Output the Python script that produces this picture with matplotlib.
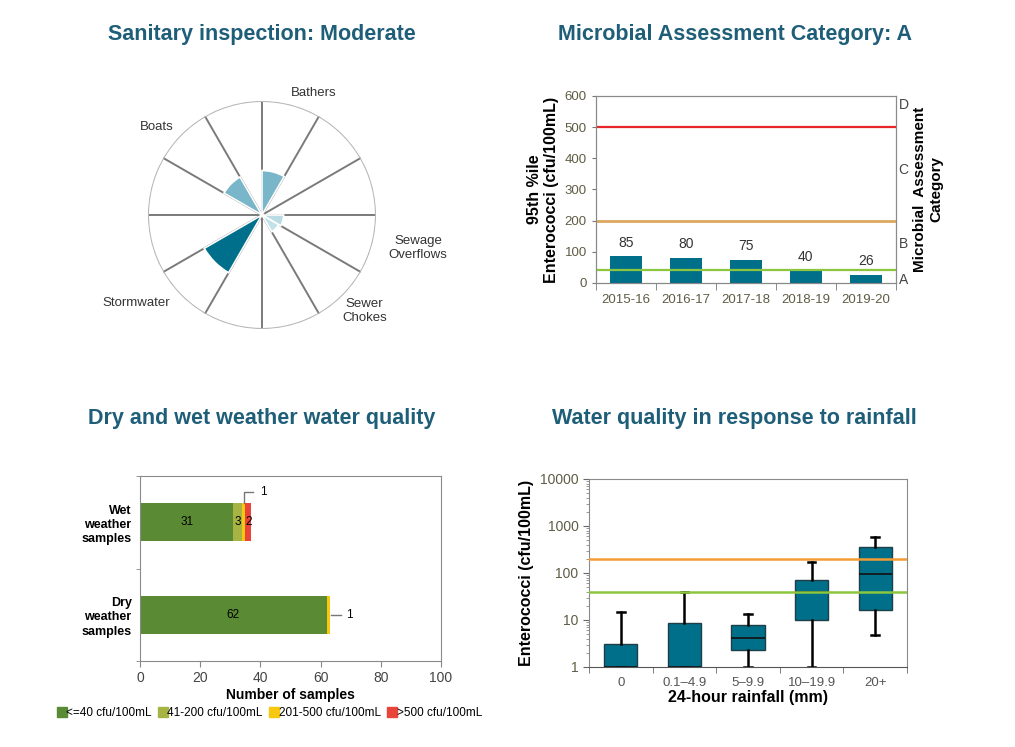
import numpy as np
import matplotlib.pyplot as plt
from matplotlib.lines import Line2D

plt.rcParams['font.family'] = ['Liberation Sans', 'DejaVu Sans']

# --- data ---
# sanitary inspection (12 sectors, 5 labelled)
san_names = ['Bathers', 'Sewage\nOverflows', 'Sewer\nChokes', 'Stormwater', 'Boats']
san_sector = [0, 3, 4, 7, 10]
san_values = [0.39, 0.19, 0.17, 0.585, 0.385]
san_colors = ['#7ab6c9', '#b8dbe4', '#c3e1e9', '#006f8c', '#7ab6c9']

# microbial assessment
years = ['2015-16', '2016-17', '2017-18', '2018-19', '2019-20']
pct95 = [85, 80, 75, 37, 26]
pct95_labels = ['85', '80', '75', '40', '26']
cat_letters = ['A', 'B', 'C', 'D']
cat_pos = [13, 130, 366, 577]

# dry / wet weather
weather = ['Dry\nweather\nsamples', 'Wet\nweather\nsamples']
cnt_le40 = [62, 31]
cnt_41_200 = [0, 3]
cnt_201_500 = [1, 1]
cnt_gt500 = [0, 2]
leg_labels = ['<=40 cfu/100mL', '41-200 cfu/100mL', '201-500 cfu/100mL', '>500 cfu/100mL']
leg_colors = ['#5b8a34', '#a7b443', '#f8c80f', '#e8443a']

# rainfall box plot
rain_cats = ['0', '0.1\u20134.9', '5\u20139.9', '10\u201319.9', '20+']
whis_lo = [1, 1, 1, 1, 4.7]
q1 = [1, 1, 2.3, 10, 16]
med = [1, 1, 4.2, 40, 95]
q3 = [3.1, 8.8, 8.0, 71, 355]
whis_hi = [15, 40, 13.3, 170, 580]

teal = '#006f8a'
title_col = '#1f5e78'
tick_col = '#5f5c44'
title_size = 15.5

fig = plt.figure(figsize=(10.15, 7.47), dpi=100)

# ---------- Sanitary inspection ----------
axp = fig.add_axes([0.1458, 0.5596, 0.2246, 0.3052], projection='polar')
axp.set_theta_zero_location('N')
axp.set_theta_direction(-1)
width = np.pi / 6
for k in range(12):
    axp.plot([k * width, k * width], [0, 1], color='#7a7a7a', lw=1.4, zorder=1)
th = np.linspace(0, 2 * np.pi, 300)
axp.plot(th, np.ones_like(th), color='#b5b5b5', lw=1.5, zorder=1)
axp.bar([s * width for s in san_sector], san_values, width=width, align='edge',
        color=san_colors, edgecolor='white', linewidth=1.2, zorder=2)
axp.set_ylim(0, 1)
axp.set_xticks([])
axp.set_yticks([])
axp.grid(False)
axp.spines['polar'].set_visible(False)
lab_pos = [(23, 1.16), (102, 1.40), (133, 1.23), (235, 1.35), (310, 1.20)]
for name, (ang, r) in zip(san_names, lab_pos):
    axp.text(np.radians(ang), r, name, ha='center', va='center', fontsize=9.5,
             color='#333333', clip_on=False)
fig.text(0.258, 0.954, 'Sanitary inspection: Moderate', ha='center', va='center',
         fontsize=title_size, fontweight='bold', color=title_col)

# ---------- Microbial assessment ----------
ax1 = fig.add_axes([0.587, 0.6212, 0.2956, 0.2503])
x = np.arange(len(years))
ax1.bar(x, pct95, width=0.53, color=teal, zorder=2)
for xi, v, t in zip(x, pct95, pct95_labels):
    ax1.annotate(t, (xi, v), xytext=(0, 5), textcoords='offset points',
                 ha='center', va='bottom', fontsize=10, color='#333333')
ax1.axhline(500, color='#e8262a', lw=1.6, zorder=3)
ax1.axhline(200, color='#dda75f', lw=2, zorder=3)
ax1.axhline(40, color='#8cc63f', lw=1.6, zorder=3)
ax1.set_xlim(-0.5, 4.5)
ax1.set_ylim(0, 600)
ax1.set_yticks(range(0, 601, 100))
ax1.set_xticks(x)
ax1.set_xticklabels(years)
ax1.set_xticks(np.arange(-0.5, 5, 1), minor=True)
ax1.tick_params(axis='x', which='major', length=0, labelsize=9.5, labelcolor=tick_col, pad=8)
ax1.tick_params(axis='x', which='minor', length=5, color='#777777')
ax1.tick_params(axis='y', length=3, labelsize=9.5, labelcolor=tick_col, color='#777777')
for sp in ax1.spines.values():
    sp.set_color('#8a8a8a')
ax1.spines['bottom'].set_color('#555555')
ax1.set_ylabel('95th %ile\nEnterococci (cfu/100mL)', fontsize=11.5, fontweight='bold',
               labelpad=4)
ax1r = ax1.twinx()
ax1r.set_ylim(0, 600)
ax1r.set_yticks(cat_pos)
ax1r.set_yticklabels(cat_letters)
ax1r.tick_params(axis='y', length=0, labelsize=10, labelcolor='#444444', pad=2)
for sp in ax1r.spines.values():
    sp.set_color('#8a8a8a')
ax1r.set_ylabel('Microbial  Assessment\nCategory', fontsize=11, fontweight='bold',
                labelpad=3)
fig.text(0.724, 0.954, 'Microbial Assessment Category: A', ha='center', va='center',
         fontsize=title_size, fontweight='bold', color=title_col)

# ---------- Dry and wet weather ----------
ax2 = fig.add_axes([0.1379, 0.1151, 0.2966, 0.2477])
y = np.arange(len(weather))
h = 0.41
left = np.zeros(len(weather))
for vals, col in zip([cnt_le40, cnt_41_200, cnt_201_500, cnt_gt500], leg_colors):
    vals = np.array(vals, dtype=float)
    ax2.barh(y, vals, left=left, height=h, color=col, zorder=2)
    left = left + vals
# segment labels
ax2.text(cnt_le40[0] / 2, 0, str(cnt_le40[0]), ha='center', va='center', fontsize=8.5)
ax2.text(cnt_le40[1] / 2, 1, str(cnt_le40[1]), ha='center', va='center', fontsize=8.5)
ax2.text(cnt_le40[1] + cnt_41_200[1] / 2, 1, str(cnt_41_200[1]), ha='center',
         va='center', fontsize=8.5)
w_red = cnt_le40[1] + cnt_41_200[1] + cnt_201_500[1]
ax2.text(w_red + cnt_gt500[1] / 2, 1, str(cnt_gt500[1]), ha='center', va='center',
         fontsize=8.5)
# leader lines for the single yellow samples
xw = cnt_le40[1] + cnt_41_200[1] + cnt_201_500[1] / 2
ax2.plot([xw, xw, xw + 3], [1 + h / 2, 1.33, 1.33], color='#777777', lw=1, clip_on=False)
ax2.text(xw + 6.5, 1.33, str(cnt_201_500[1]), ha='center', va='center', fontsize=8.5)
xd = cnt_le40[0] + cnt_201_500[0]
ax2.plot([xd + 0.5, xd + 3.8], [0, 0], color='#777777', lw=1)
ax2.text(xd + 6.5, 0, str(cnt_201_500[0]), ha='center', va='center', fontsize=8.5)
ax2.set_xlim(0, 100)
ax2.set_ylim(-0.5, 1.5)
ax2.set_xticks(range(0, 101, 20))
ax2.set_yticks(y)
ax2.set_yticklabels(weather, fontweight='bold', fontsize=9, linespacing=1.25)
ax2.set_yticks([-0.5, 0.5, 1.5], minor=True)
ax2.tick_params(axis='y', which='major', length=0, pad=6)
ax2.tick_params(axis='y', which='minor', length=3, color='#888888')
ax2.tick_params(axis='x', length=4, color='#888888', labelsize=10, labelcolor='#444444')
for sp in ax2.spines.values():
    sp.set_color('#8a8a8a')
ax2.set_xlabel('Number of samples', fontsize=10, fontweight='bold', labelpad=2)
handles = [Line2D([], [], marker='s', linestyle='none', markersize=7, color=c)
           for c in leg_colors]
fig.legend(handles, leg_labels, loc='center', bbox_to_anchor=(0.266, 0.046), ncol=4,
           frameon=False, fontsize=8.5, handlelength=0.6, handletextpad=0.05,
           columnspacing=0.7, borderaxespad=0)
fig.text(0.258, 0.44, 'Dry and wet weather water quality', ha='center', va='center',
         fontsize=title_size, fontweight='bold', color=title_col)

# ---------- Rainfall box plot ----------
ax3 = fig.add_axes([0.5803, 0.1071, 0.3133, 0.2517])
stats = []
for i in range(len(rain_cats)):
    stats.append(dict(whislo=whis_lo[i], q1=q1[i], med=med[i], q3=q3[i],
                      whishi=whis_hi[i], fliers=[]))
ax3.bxp(stats, positions=np.arange(len(rain_cats)), widths=0.52, patch_artist=True,
        showfliers=False, capwidths=0.12,
        boxprops=dict(facecolor=teal, edgecolor='#1e3e48', linewidth=1),
        medianprops=dict(color='#111111', linewidth=1.2),
        whiskerprops=dict(color='black', linewidth=1.8),
        capprops=dict(color='black', linewidth=1.8))
ax3.axhline(200, color='#f39c34', lw=1.8, zorder=3)
ax3.axhline(40, color='#8cc63f', lw=1.8, zorder=3)
ax3.set_yscale('log')
ax3.set_ylim(1, 10000)
ax3.set_xlim(-0.5, 4.5)
ax3.set_yticks([1, 10, 100, 1000, 10000])
ax3.set_yticklabels(['1', '10', '100', '1000', '10000'])
ax3.set_xticks(np.arange(len(rain_cats)))
ax3.set_xticklabels(rain_cats)
ax3.set_xticks(np.arange(-0.5, 5, 1), minor=True)
ax3.tick_params(axis='x', which='major', length=0, labelsize=9.5, labelcolor='#555555', pad=7)
ax3.tick_params(axis='x', which='minor', length=4, color='#666666')
ax3.tick_params(axis='y', which='major', length=4, labelsize=10, labelcolor=tick_col,
                color='#666666')
ax3.tick_params(axis='y', which='minor', length=2, color='#888888')
for sp in ax3.spines.values():
    sp.set_color('#8a8a8a')
ax3.spines['bottom'].set_color('#555555')
ax3.set_xlabel('24-hour rainfall (mm)', fontsize=11.5, fontweight='bold', labelpad=1)
ax3.set_ylabel('Enterococci (cfu/100mL)', fontsize=11.5, fontweight='bold', labelpad=4)
fig.text(0.724, 0.44, 'Water quality in response to rainfall', ha='center', va='center',
         fontsize=title_size, fontweight='bold', color=title_col)

fig.savefig('out.png', dpi=100, facecolor='white')
